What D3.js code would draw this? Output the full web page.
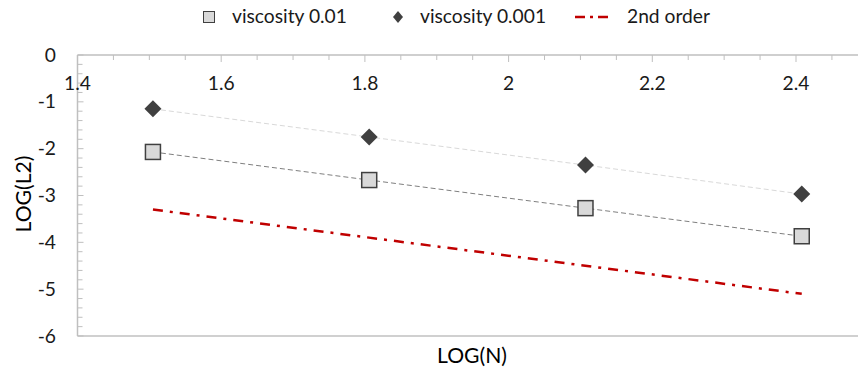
<!DOCTYPE html>
<html><head><meta charset="utf-8">
<script src="https://cdn.jsdelivr.net/npm/d3@7"></script>
<style>
html,body{margin:0;padding:0;background:#fff;}
svg{display:block;font-family:Lato,"Open Sans",sans-serif;}
</style></head>
<body>
<svg id="chart" width="858" height="372"></svg>
<script>
const logN = [1.505, 1.806, 2.107, 2.408];
const visc001 = [-2.07, -2.67, -3.27, -3.87];
const visc0001 = [-1.15, -1.75, -2.35, -2.97];
const secondOrderX = [1.505, 2.408];
const secondOrderY = [-3.3, -5.1];
const xTicks = [1.4, 1.6, 1.8, 2.0, 2.2, 2.4];
const yTicks = [0, -1, -2, -3, -4, -5, -6];
const seriesNames = ["viscosity 0.01", "viscosity 0.001", "2nd order"];

const svg = d3.select("#chart");
const x = d3.scaleLinear().domain([1.4, 2.5]).range([77.5, 796 + 71.85]);
const y = d3.scaleLinear().domain([-6, 0]).range([336, 55]);

// size fonts so text widths match the reference
function fitSize(txt, target, base) {
  const t = svg.append("text").attr("font-size", base).text(txt);
  const w = t.node().getComputedTextLength();
  t.remove();
  return base * target / w;
}
const tickFont = fitSize(seriesNames[0], 115, 20);
const titleFont = fitSize("LOG(N)", 70, 20);

const axisColor = "#bfbfbf";
// bottom border
svg.append("line").attr("x1", x(1.4)).attr("x2", 858).attr("y1", y(-6)).attr("y2", y(-6))
  .attr("stroke", "#d0d0d0").attr("stroke-width", 2);

// Y axis
const yMinor = d3.range(0, 31).map(i => -i * 0.2);
svg.append("line").attr("x1", x(1.4)).attr("x2", x(1.4)).attr("y1", y(0)).attr("y2", y(-6))
  .attr("stroke", axisColor).attr("stroke-width", 1.5);
svg.selectAll(".ymin").data(yMinor).join("line")
  .attr("x1", x(1.4)).attr("x2", d => x(1.4) + (Math.abs(d - Math.round(d)) < 1e-6 ? 6 : 5))
  .attr("y1", d => y(d)).attr("y2", d => y(d)).attr("stroke", axisColor).attr("stroke-width", 1);
svg.selectAll(".ylab").data(yTicks).join("text")
  .attr("x", 56).attr("y", d => y(d) + 6.5).attr("text-anchor", "end")
  .attr("font-size", tickFont).attr("fill", "#1a1a1a").text(d => d === 0 ? "0" : "-" + Math.abs(d));

// X axis at y=0
const xMinor = d3.range(0, 23).map(i => 1.4 + i * 0.05);
svg.append("line").attr("x1", x(1.4)).attr("x2", 858).attr("y1", y(0)).attr("y2", y(0))
  .attr("stroke", axisColor).attr("stroke-width", 1.5);
svg.selectAll(".xmin").data(xMinor).join("line")
  .attr("x1", d => x(d)).attr("x2", d => x(d))
  .attr("y1", y(0)).attr("y2", (d, i) => y(0) + (i % 4 === 0 ? 7 : 5))
  .attr("stroke", axisColor).attr("stroke-width", 1);
svg.selectAll(".xlab").data(xTicks).join("text")
  .attr("x", d => x(d)).attr("y", 90).attr("text-anchor", "middle")
  .attr("font-size", tickFont).attr("fill", "#1a1a1a").text(d => d3.format("")(+d.toFixed(1)));

// Axis titles
svg.append("text").attr("transform", `translate(31,194) rotate(-90)`).attr("text-anchor", "middle")
  .attr("font-size", titleFont).attr("fill", "#000").text("LOG(L2)");
svg.append("text").attr("x", 472).attr("y", 363).attr("text-anchor", "middle")
  .attr("font-size", titleFont).attr("fill", "#000").text("LOG(N)");

// Lines
const line = d3.line().x(d => x(d[0])).y(d => y(d[1]));
svg.append("path").datum(logN.map((v, i) => [v, visc0001[i]])).attr("d", line)
  .attr("fill", "none").attr("stroke", "#d9d9d9").attr("stroke-width", 1).attr("stroke-dasharray", "5,3");
svg.append("path").datum(logN.map((v, i) => [v, visc001[i]])).attr("d", line)
  .attr("fill", "none").attr("stroke", "#7f7f7f").attr("stroke-width", 1).attr("stroke-dasharray", "5,3");
svg.append("path").datum(secondOrderX.map((v, i) => [v, secondOrderY[i]])).attr("d", line)
  .attr("fill", "none").attr("stroke", "#c00000").attr("stroke-width", 2.5).attr("stroke-dasharray", "10,7,3,7");

// Markers
svg.selectAll(".sq").data(logN.map((v, i) => [v, visc001[i]])).join("rect")
  .attr("x", d => x(d[0]) - 7.5).attr("y", d => y(d[1]) - 7.5).attr("width", 15).attr("height", 15)
  .attr("fill", "#d9d9d9").attr("stroke", "#404040").attr("stroke-width", 1.5);
svg.selectAll(".dm").data(logN.map((v, i) => [v, visc0001[i]])).join("path")
  .attr("d", d => { const cx = x(d[0]), cy = y(d[1]), r = 8.5; return `M${cx},${cy - r}L${cx + r},${cy}L${cx},${cy + r}L${cx - r},${cy}Z`; })
  .attr("fill", "#404040");

// Legend
const lg = svg.append("g");
lg.append("rect").attr("x", 203.5).attr("y", 11.5).attr("width", 11).attr("height", 11)
  .attr("fill", "#d9d9d9").attr("stroke", "#404040").attr("stroke-width", 1);
lg.append("text").attr("x", 232).attr("y", 23).attr("font-size", tickFont).attr("fill", "#1a1a1a").text(seriesNames[0]);
lg.append("path").attr("d", "M398,11L403,17L398,23L393,17Z").attr("fill", "#404040");
lg.append("text").attr("x", 420).attr("y", 23).attr("font-size", tickFont).attr("fill", "#1a1a1a").text(seriesNames[1]);
lg.append("line").attr("x1", 575).attr("x2", 612).attr("y1", 17).attr("y2", 17)
  .attr("stroke", "#c00000").attr("stroke-width", 2.5).attr("stroke-dasharray", "10,5,3,5");
lg.append("text").attr("x", 627).attr("y", 23).attr("font-size", tickFont).attr("fill", "#1a1a1a").text(seriesNames[2]);
</script>
</body></html>
